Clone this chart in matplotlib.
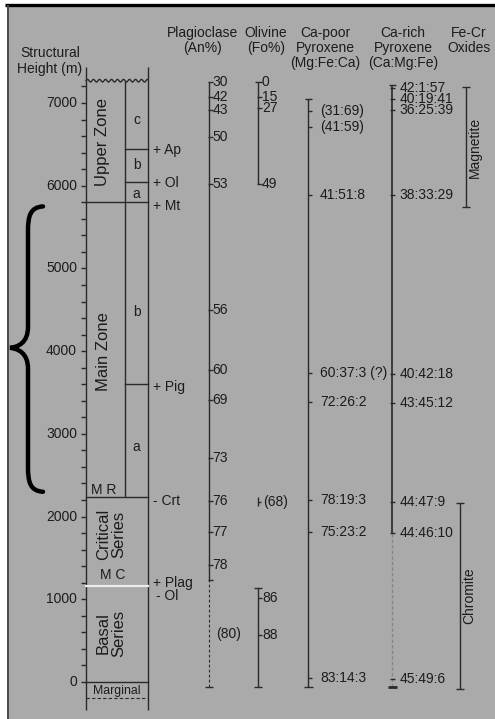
import matplotlib
matplotlib.use("Agg")
import matplotlib.pyplot as plt
import numpy as np
from matplotlib.path import Path
from matplotlib.patches import PathPatch, Rectangle

plt.rcParams['font.family'] = ['Liberation Sans', 'DejaVu Sans']

# ---------------------------------------------------------------- data
height_major = [0, 1000, 2000, 3000, 4000, 5000, 6000, 7000]
height_minor = list(range(0, 7201, 200))

zone_names = ["Upper Zone", "Main Zone", "Critical\nSeries", "Basal\nSeries"]
zone_label_h = [6530, 3990, 1780, 590]

column_top = 7270
full_boundaries = [5800, 2240, 0]
plag_in_boundary = 1160
sub_boundaries = [6450, 6050, 3600]
marginal_base = -190

subzone_letters = ["c", "b", "a", "b", "a"]
subzone_h = [6800, 6250, 5900, 4470, 2840]

phase_labels = ["+ Ap", "+ Ol", "+ Mt", "+ Pig", "- Crt", "+ Plag", "- Ol"]
phase_h = [6430, 6030, 5760, 3570, 2190, 1200, 1040]

unit_marks = ["M R", "M C", "Marginal"]
unit_marks_h = [2320, 1290, -110]

plag_an = ["30", "42", "43", "50", "53", "56", "60", "69", "73", "76", "77", "78"]
plag_h = [7255, 7075, 6915, 6590, 6020, 4500, 3775, 3410, 2710, 2190, 1815, 1415]
plag_solid_base = 1235
plag_dashed_base = -60
plag_inferred, plag_inferred_h = "(80)", 580

ol_upper_fo = ["0", "15", "27", "49"]
ol_upper_h = [7255, 7075, 6940, 6020]
ol_mid_fo, ol_mid_h = "(68)", 2180
ol_lower_fo = ["86", "88"]
ol_lower_h = [1015, 570]
ol_lower_top, ol_lower_base = 1135, -60

opx_labels = ["(31:69)", "(41:59)", "41:51:8", "60:37:3 (?)", "72:26:2",
              "78:19:3", "75:23:2", "83:14:3"]
opx_h = [6905, 6715, 5890, 3735, 3385, 2200, 1815, 50]
opx_top, opx_base = 7050, -60

cpx_labels = ["42:1:57", "40:19:41", "36:25:39", "38:33:29", "40:42:18",
              "43:45:12", "44:47:9", "44:46:10", "45:49:6"]
cpx_h = [7180, 7050, 6915, 5890, 3725, 3375, 2180, 1800, 36]
cpx_top, cpx_solid_base, cpx_base = 7220, 1800, -60

oxide_names = ["Magnetite", "Chromite"]
oxide_top = [7190, 2165]
oxide_base = [5740, -85]

headers = [["Plagioclase", "(An%)"], ["Olivine", "(Fo%)"],
           ["Ca-poor", "Pyroxene", "(Mg:Fe:Ca)"],
           ["Ca-rich", "Pyroxene", "(Ca:Mg:Fe)"], ["Fe-Cr", "Oxides"]]

# ---------------------------------------------------------------- layout
W, H = 495, 719
ROW0 = 682.0
PX_PER_M = 0.08271
GRAY = "#aaaaaa"
INK = "#2a2a2a"
TXT = "#1c1c1c"
LW = 1.0


def h_of_row(p):
    return (ROW0 - p) / PX_PER_M


fig = plt.figure(figsize=(W / 100, H / 100), dpi=100)
fig.patch.set_facecolor("white")
ax = fig.add_axes([0, 0, 1, 1])
ax.set_xlim(0, W)
ax.set_ylim(h_of_row(H), h_of_row(0))
ax.axis("off")

# panel background and frame
ax.add_patch(Rectangle((8 / W, 0), 1 - 8 / W, 1 - 6 / H, transform=ax.transAxes,
                       facecolor=GRAY, edgecolor="none", zorder=0))
ax.plot([5 / W, 1], [1 - 5 / H, 1 - 5 / H], transform=ax.transAxes,
        color="black", lw=2.4, solid_capstyle="butt", zorder=5)
ax.plot([7.5 / W, 7.5 / W], [0, 1 - 6 / H], transform=ax.transAxes,
        color="#4a4a4a", lw=1.4, zorder=5)


def vline(x, h0, h1, **kw):
    kw.setdefault("color", INK)
    kw.setdefault("lw", LW)
    ax.plot([x, x], [h0, h1], solid_capstyle="butt", **kw)


def tick(x, h, left=0.0, right=4.0, **kw):
    kw.setdefault("color", INK)
    kw.setdefault("lw", LW)
    ax.plot([x - left, x + right], [h, h], solid_capstyle="butt", **kw)


def label(x, h, s, size=10, ha="left", **kw):
    ax.text(x, h, s, fontsize=size, ha=ha, va="center", color=TXT, **kw)


def header_text(xc, row, s):
    ax.text(xc, h_of_row(row), s, fontsize=10, ha="center", va="center", color=TXT)


# ---------------------------------------------------------------- height axis
X_AX, X_SUB, X_COL = 86, 125, 148
ax_top, ax_bot = h_of_row(67), h_of_row(710)
vline(X_AX, ax_bot, ax_top)
vline(X_COL, ax_bot, ax_top)
for h in height_minor:
    tick(X_AX, h, left=5, right=0)
for h in height_major:
    label(77, h, f"{h}", ha="right")
header_text(50, 53, "Structural")
header_text(50, 69, "Height (m)")

# stratigraphic column, with an erosional (wavy) top
wx = np.linspace(X_AX, X_COL, 300)
wy = column_top + 16 * np.sin((wx - X_AX) / 6.0 * 2 * np.pi)
ax.plot(wx, wy, color=INK, lw=LW)
vline(X_SUB, full_boundaries[1], column_top)
for h in full_boundaries:
    ax.plot([X_AX, X_COL], [h, h], color=INK, lw=LW)
ax.plot([X_AX, X_COL], [plag_in_boundary] * 2, color="#ececec", lw=1.6)
ax.plot([X_AX, X_COL], [marginal_base] * 2, color=INK, lw=0.8, ls=(0, (3, 2)))
for h in sub_boundaries:
    ax.plot([X_SUB, X_COL], [h, h], color=INK, lw=LW)

zone_x = [103, 103, 111, 111]
for name, h, x in zip(zone_names, zone_label_h, zone_x):
    ax.text(x, h, name, fontsize=12, rotation=90, ha="center", va="center",
            color=TXT, linespacing=1.0)
for s, h in zip(subzone_letters, subzone_h):
    label(136.5, h, s, ha="center")
phase_x = [153, 153, 153, 153, 153, 153, 156]
for s, h, x in zip(phase_labels, phase_h, phase_x):
    label(x, h, s)
label(104, unit_marks_h[0], unit_marks[0], ha="center")
label(113, unit_marks_h[1], unit_marks[1], ha="center")
label(117, unit_marks_h[2], unit_marks[2], size=8.8, ha="center")

# ---------------------------------------------------------------- plagioclase
XP = 209
vline(XP, plag_solid_base, plag_h[0])
vline(XP, plag_dashed_base, plag_solid_base, lw=0.8, ls=(0, (2.5, 2)))
tick(XP, plag_solid_base, left=1, right=4)
tick(XP, plag_dashed_base, left=4, right=4)
for s, h in zip(plag_an, plag_h):
    tick(XP, h, left=1, right=3.5)
    label(212.5, h, s)
label(216, plag_inferred_h, plag_inferred)

# ---------------------------------------------------------------- olivine
XO = 258
vline(XO, ol_upper_h[-1], ol_upper_h[0])
tick(XO, ol_upper_h[0], left=3.5, right=3.5)
tick(XO, ol_upper_h[-1], left=1, right=4)
for s, h in zip(ol_upper_fo, ol_upper_h):
    if s not in ("0", "49"):
        tick(XO, h, left=1, right=3.5)
    label(262, h, s)
vline(XO, ol_mid_h - 55, ol_mid_h + 55)
tick(XO, ol_mid_h, left=0, right=3)
label(263.5, ol_mid_h, ol_mid_fo)
vline(XO, ol_lower_base, ol_lower_top)
tick(XO, ol_lower_top, left=4, right=4)
tick(XO, ol_lower_base, left=4, right=4)
for s, h in zip(ol_lower_fo, ol_lower_h):
    tick(XO, h, left=0, right=3.5)
    label(262, h, s)

# ---------------------------------------------------------------- Ca-poor pyroxene
XL = 308
vline(XL, opx_base, opx_top)
tick(XL, opx_top, left=3.5, right=3.5)
tick(XL, opx_base, left=4.5, right=4.5)
for s, h in zip(opx_labels, opx_h):
    tick(XL, h, left=0, right=4)
    label(320, h, s)

# ---------------------------------------------------------------- Ca-rich pyroxene
XR = 392
vline(XR, cpx_solid_base, cpx_top, lw=1.4, color="#3a3a3a")
vline(XR, cpx_base, cpx_solid_base, lw=1.0, color="#858585", ls=(0, (2.5, 1.5)))
tick(XR, cpx_top, left=3.5, right=3.5)
ax.plot([XR - 4.5, XR + 4.5], [cpx_base, cpx_base], color=INK, lw=2.0,
        solid_capstyle="butt")
for s, h in zip(cpx_labels, cpx_h):
    tick(XR, h, left=2, right=2.5)
    label(399.5, h, s)

# ---------------------------------------------------------------- Fe-Cr oxides
oxide_x = [466, 460]
for name, x, top, base in zip(oxide_names, oxide_x, oxide_top, oxide_base):
    vline(x, base, top)
    tick(x, top, left=4, right=4)
    tick(x, base, left=4, right=4)
    ax.text(x + 9, (top + base) / 2, name, fontsize=10, rotation=90,
            ha="center", va="center", color=TXT)

# ---------------------------------------------------------------- headers
header_x = [203, 266, 325, 403, 469]
for lines, xc in zip(headers, header_x):
    for i, s in enumerate(lines):
        header_text(xc, 33 + 15 * i, s)

# ---------------------------------------------------------------- curly brace
b_top, b_tip, b_bot = 5750, 4040, 2300
xr, xm, xt = 43, 28, 10
k = 230
verts = [(xr, b_top),
         (xm + 2, b_top - 10), (xm, b_top - 120), (xm, b_top - k * 1.3),
         (xm, b_tip + k * 1.1),
         (xm, b_tip + 60), (xt + 8, b_tip + 10), (xt, b_tip),
         (xt + 8, b_tip - 10), (xm, b_tip - 60), (xm, b_tip - k * 1.1),
         (xm, b_bot + k * 1.3),
         (xm, b_bot + 120), (xm + 2, b_bot + 10), (xr, b_bot)]
codes = [Path.MOVETO,
         Path.CURVE4, Path.CURVE4, Path.CURVE4,
         Path.LINETO,
         Path.CURVE4, Path.CURVE4, Path.CURVE4,
         Path.CURVE4, Path.CURVE4, Path.CURVE4,
         Path.LINETO,
         Path.CURVE4, Path.CURVE4, Path.CURVE4]
ax.add_patch(PathPatch(Path(verts, codes), facecolor="none", edgecolor="black",
                       lw=3.2, capstyle="round"))

fig.savefig("out.png", dpi=100, facecolor="white")
